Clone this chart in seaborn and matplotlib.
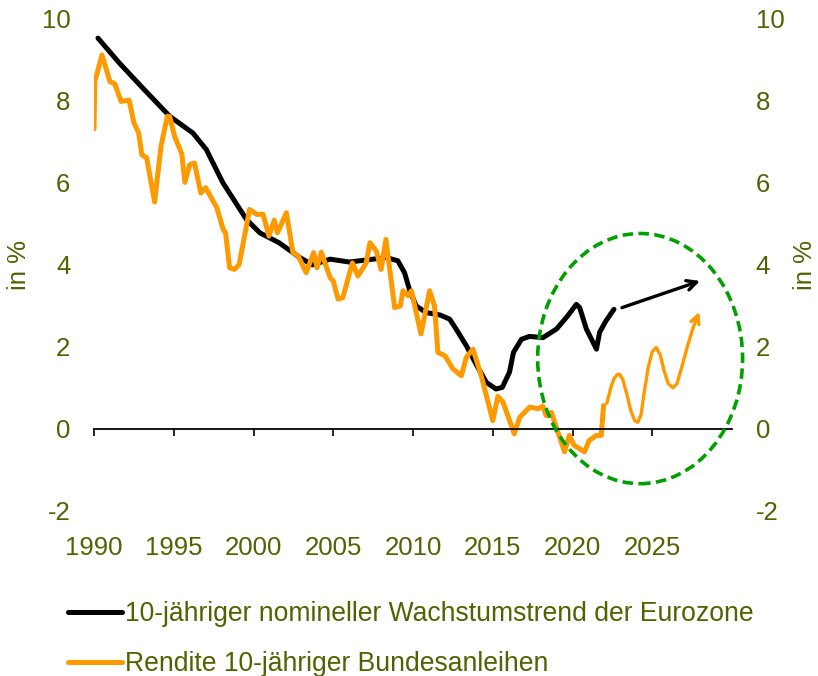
import numpy as np
import pandas as pd
import seaborn as sns
import matplotlib.pyplot as plt
from matplotlib.patches import Ellipse
from matplotlib.lines import Line2D

# --- data ---
trend_years = [1990.25, 1991.6, 1993.07, 1994.74, 1996.2, 1997.04, 1998.08, 1999.55, 2000.4,
               2001.6, 2002.9, 2003.7, 2004.8, 2006.0, 2007.07, 2008.33, 2009.05, 2009.47,
               2009.8, 2010.2, 2010.83, 2011.7, 2012.3, 2012.7, 2013.35, 2014.0, 2014.6,
               2015.2, 2015.6, 2016.05, 2016.3, 2016.8, 2017.3, 2018.15, 2019.0, 2019.7,
               2020.24, 2020.45, 2020.87, 2021.5, 2021.7, 2022.1, 2022.6]
trend_vals = [9.51, 8.9, 8.29, 7.61, 7.2, 6.8, 5.99, 5.1, 4.77,
              4.53, 4.17, 3.99, 4.13, 4.06, 4.11, 4.17, 4.09, 3.8,
              3.36, 2.99, 2.83, 2.77, 2.67, 2.43, 2.02, 1.54, 1.13,
              0.97, 1.01, 1.38, 1.86, 2.18, 2.25, 2.22, 2.43, 2.75,
              3.03, 2.95, 2.43, 1.94, 2.35, 2.63, 2.91]

bund_years = [1990.0, 1990.05, 1990.5, 1991.0, 1991.3, 1991.7, 1992.2, 1992.5, 1992.8, 1993.0,
              1993.3, 1993.8, 1994.2, 1994.6, 1994.75, 1995.05, 1995.5, 1995.7, 1996.0, 1996.3,
              1996.7, 1997.0, 1997.7, 1998.1, 1998.25, 1998.5, 1998.8, 1999.1, 1999.75, 2000.2,
              2000.6, 2000.97, 2001.3, 2001.5, 2002.06, 2002.47, 2002.8, 2003.3, 2003.77, 2003.98,
              2004.25, 2004.8, 2005.0, 2005.3, 2005.6, 2006.2, 2006.55, 2007.07, 2007.3, 2007.7,
              2008.0, 2008.3, 2008.85, 2009.2, 2009.37, 2009.7, 2009.9, 2010.5, 2011.04, 2011.35,
              2011.56, 2012.0, 2012.5, 2013.03, 2013.34, 2013.76, 2014.28, 2015.0, 2015.32, 2015.64,
              2016.35, 2016.69, 2017.32, 2017.83, 2018.14, 2018.35, 2018.67, 2019.5, 2019.8, 2020.1,
              2020.75, 2021.05, 2021.5, 2021.8, 2021.95]
bund_vals = [7.3, 8.45, 9.1, 8.45, 8.4, 7.97, 8.0, 7.45, 7.2, 6.67,
             6.6, 5.52, 6.88, 7.61, 7.6, 7.12, 6.7, 6.0, 6.43, 6.47,
             5.74, 5.87, 5.38, 4.85, 4.77, 3.92, 3.88, 4.0, 5.34, 5.22,
             5.22, 4.69, 5.08, 4.77, 5.26, 4.29, 4.21, 3.8, 4.29, 3.92,
             4.3, 3.68, 3.6, 3.16, 3.19, 4.04, 3.72, 4.04, 4.53, 4.33,
             3.88, 4.61, 2.95, 2.99, 3.36, 3.24, 3.36, 2.31, 3.36, 2.99,
             1.86, 1.78, 1.46, 1.29, 1.74, 1.94, 1.29, 0.2, 0.79, 0.65,
             -0.12, 0.28, 0.53, 0.49, 0.55, 0.32, 0.4, -0.56, -0.16, -0.4,
             -0.56, -0.28, -0.16, -0.16, 0.57]

# forecast sketches
bund_fc_years = [2022.15, 2022.4, 2022.6, 2022.8, 2022.95, 2023.15, 2023.4, 2023.65, 2023.9, 2024.1,
                 2024.3, 2024.5, 2024.75, 2025.0, 2025.25, 2025.5, 2025.75, 2026.0, 2026.3, 2026.55,
                 2026.85, 2027.2, 2027.55, 2027.95]
bund_fc_vals = [0.62, 1.0, 1.22, 1.32, 1.33, 1.2, 0.85, 0.45, 0.2, 0.16,
                0.35, 0.9, 1.5, 1.88, 1.98, 1.8, 1.4, 1.1, 1.0, 1.1,
                1.5, 2.0, 2.45, 2.85]
trend_fc_years = [2023.1, 2028.0]
trend_fc_vals = [2.95, 3.6]

labels = ["10-jähriger nomineller Wachstumstrend der Eurozone",
          "Rendite 10-jähriger Bundesanleihen"]
x_ticks = [1990, 1995, 2000, 2005, 2010, 2015, 2020, 2025]
y_ticks = [-2, 0, 2, 4, 6, 8, 10]

OLIVE = '#4f6400'
ORANGE = '#ff9900'
GREEN = '#00a000'

sns.set_style("white")
plt.rcParams['font.family'] = ['Liberation Sans', 'DejaVu Sans']
plt.rcParams['axes.unicode_minus'] = False

df = pd.concat([
    pd.DataFrame({'Jahr': trend_years, 'Wert': trend_vals, 'Serie': labels[0]}),
    pd.DataFrame({'Jahr': bund_years, 'Wert': bund_vals, 'Serie': labels[1]}),
])

fig = plt.figure(figsize=(8.18, 6.76), dpi=100)
W, H = 818, 676
ax = fig.add_axes([94 / W, 1 - 511 / H, (732 - 94) / W, (511 - 18) / H])

sns.lineplot(data=df, x='Jahr', y='Wert', hue='Serie', palette=['black', ORANGE],
             estimator=None, sort=False, lw=3.6, legend=False, ax=ax)
sns.lineplot(x=bund_fc_years[:-1], y=bund_fc_vals[:-1], color=ORANGE, lw=2.4,
             estimator=None, sort=False, ax=ax)
ax.annotate('', xy=(bund_fc_years[-1], bund_fc_vals[-1]),
            xytext=(bund_fc_years[-2], bund_fc_vals[-2]),
            arrowprops=dict(arrowstyle='->,head_length=0.6,head_width=0.3',
                            color=ORANGE, lw=2.4, shrinkA=0, shrinkB=0))
ax.annotate('', xy=(trend_fc_years[1], trend_fc_vals[1]),
            xytext=(trend_fc_years[0], trend_fc_vals[0]),
            arrowprops=dict(arrowstyle='->,head_length=0.7,head_width=0.35',
                            color='black', lw=2.4, shrinkA=0, shrinkB=0))

ax.add_patch(Ellipse((2024.24, 1.71), 12.85, 6.09, fill=False, edgecolor=GREEN,
                     lw=2.6, linestyle=(0, (2.9, 1.5)), clip_on=False, zorder=5))

ax.set_xlim(1990, 2030)
ax.set_ylim(-2, 10)
for s in ['top', 'left', 'right']:
    ax.spines[s].set_visible(False)
ax.spines['bottom'].set_position(('data', 0))
ax.spines['bottom'].set_color('black')
ax.spines['bottom'].set_linewidth(1.3)
ax.set_xticks(x_ticks)
ax.set_xticklabels([str(t) for t in x_ticks])
ax.tick_params(axis='x', bottom=True, direction='out', length=5, width=1.2, color='black',
               labelsize=18.5, labelcolor=OLIVE, pad=72)
ax.set_yticks(y_ticks)
ax.tick_params(axis='y', left=False, length=0, labelsize=18.5, labelcolor=OLIVE, pad=17)
ax.set_xlabel('')
ax.set_ylabel('in %', fontsize=18.5, color=OLIVE, labelpad=8)

ax2 = ax.twinx()
ax2.set_ylim(-2, 10)
ax2.set_yticks(y_ticks)
for s in ['top', 'left', 'right', 'bottom']:
    ax2.spines[s].set_visible(False)
ax2.tick_params(axis='y', right=False, length=0, labelsize=18.5, labelcolor=OLIVE, pad=17)
ax2.set_ylabel('in %', fontsize=18.5, color=OLIVE, rotation=90, labelpad=6.5)

handles = [Line2D([], [], color='black', lw=3.6), Line2D([], [], color=ORANGE, lw=3.6)]
fig.legend(handles, labels, loc='upper left', bbox_to_anchor=(68 / W, 1 - 601 / H),
           frameon=False, fontsize=19.1, labelcolor=OLIVE, handlelength=2.05,
           handletextpad=0.1, labelspacing=0.9, borderpad=0, borderaxespad=0)

fig.savefig('out.png', dpi=100)
